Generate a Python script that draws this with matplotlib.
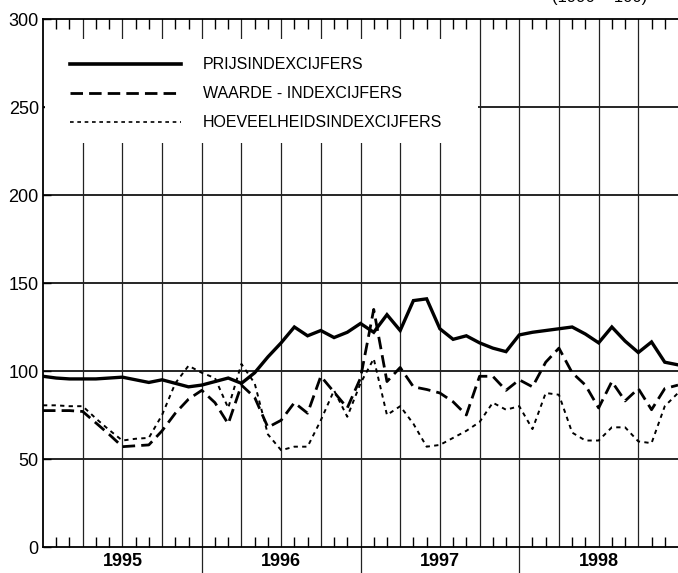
import numpy as np
import matplotlib.pyplot as plt
from matplotlib.patches import Rectangle

plt.rcParams['font.family'] = ['Liberation Sans', 'DejaVu Sans']

# months since jan 1995 (one point per month boundary)
months = list(range(49))

prijs = [97, 96, 95.5, 95.5, 95.5, 96, 96.5, 95, 93.5, 95, 93, 91,
         92, 94, 96, 93, 99, 108, 116, 125, 120, 123, 119, 122,
         127, 122, 132, 123, 140, 141, 124, 118, 120, 116, 113, 111,
         120.5, 122, 123, 124, 125, 121, 116, 125, 117, 110.5, 116.5, 105,
         103.5]

waarde = [77.5, 77.5, 77.5, 77, 70.5, 64, 57, 57.5, 58, 66, 76, 84,
          89, 82, 70, 92, 85, 68, 72, 82, 76, 97, 88, 79,
          96, 135, 94, 102, 91, 89.5, 87.5, 82.5, 75, 97, 97, 89,
          95, 91, 105, 113, 99, 92, 79, 94, 83, 90, 78, 90,
          92]

hoeveelheid = [80.5, 80.5, 80, 80, 73, 66.5, 60.5, 61.5, 62, 75, 93, 103,
               99, 96, 79, 104, 93, 64, 55, 57, 57, 72, 89, 74,
               93, 107, 75, 80, 70, 57, 58, 62, 66, 71, 82, 78,
               80, 67, 87.5, 86.5, 65, 60.5, 60.5, 68, 68, 60, 59, 80,
               87.5]

year_labels = ['1995', '1996', '1997', '1998']
legend_labels = ['PRIJSINDEXCIJFERS', 'WAARDE - INDEXCIJFERS',
                 'HOEVEELHEIDSINDEXCIJFERS']

fig = plt.figure(figsize=(6.78, 5.73), dpi=100)
ax = fig.add_axes([43 / 678, 26 / 573, 635 / 678, 528 / 573])
ax.set_xlim(0, 48)
ax.set_ylim(0, 300)

# grid: horizontal every 50, vertical every quarter
for y in range(50, 300, 50):
    ax.axhline(y, color='black', lw=1.2, zorder=1)
for q in range(3, 48, 3):
    if q % 12 == 0:
        ax.axvline(q, ymin=-0.05, ymax=1, color='#222222', lw=0.9,
                   zorder=1, clip_on=False)
    else:
        ax.axvline(q, color='#222222', lw=0.9, zorder=1)

ax.plot(months, prijs, color='black', lw=2.4, zorder=4, solid_joinstyle='miter')
ax.plot(months, waarde, color='black', lw=2.0, dashes=(4.5, 2.2), zorder=4)
ax.plot(months, hoeveelheid, color='black', lw=1.4, dashes=(2.2, 2.2), zorder=4)

# white area behind the legend
ax.add_patch(Rectangle((0.003, 0.765), 0.682, 0.197, transform=ax.transAxes,
                       facecolor='white', edgecolor='none', zorder=3))

leg_y = [0.914, 0.859, 0.804]
styles = [dict(lw=2.6), dict(lw=2.0, dashes=(4.5, 2.2)), dict(lw=1.2, dashes=(2.2, 2.2))]
for yy, lab, st in zip(leg_y, legend_labels, styles):
    ax.plot([0.042, 0.217], [yy, yy], color='black', transform=ax.transAxes,
            zorder=5, **st)
    ax.text(0.252, yy, lab, transform=ax.transAxes, fontsize=11.5,
            va='center', ha='left', zorder=5)

# ticks
ax.set_yticks(range(0, 301, 50))
ax.set_yticklabels([str(v) for v in range(0, 301, 50)], fontsize=13)
ax.tick_params(axis='y', direction='in', length=6, width=1, pad=3)
ax.set_xticks([6, 18, 30, 42])
ax.set_xticklabels(year_labels, fontsize=13, fontweight='bold')
ax.tick_params(axis='x', which='major', length=0, pad=4)
ax.set_xticks([m for m in range(1, 48) if m % 3 != 0], minor=True)
ax.tick_params(axis='x', which='minor', direction='in', length=7, width=1,
               top=True, bottom=True)

for side in ['top', 'left', 'bottom']:
    ax.spines[side].set_linewidth(1.3)
ax.spines['right'].set_visible(False)

fig.text(0.885, 1 - 5 / 573, '(1990 = 100)', fontsize=12, ha='center', va='bottom')

fig.savefig('out.png', dpi=100)
